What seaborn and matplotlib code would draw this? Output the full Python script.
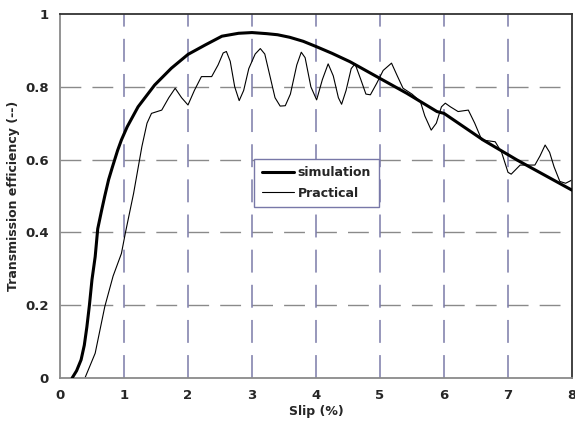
import matplotlib as mpl
mpl.use('Agg')
import matplotlib.pyplot as plt
import seaborn as sns
import pandas as pd

# simulation curve
sim_slip = [0.19, 0.26, 0.33, 0.38, 0.42, 0.46, 0.50, 0.55, 0.59, 0.65, 0.70, 0.76, 0.82,
            0.90, 0.96, 1.05, 1.22, 1.48, 1.74, 2.0, 2.27, 2.53, 2.79, 3.0, 3.23, 3.40,
            3.59, 3.80, 4.01, 4.25, 4.53, 5.0, 5.42, 5.89, 6.0, 6.61, 7.14, 8.0]
sim_eff = [0.0, 0.02, 0.05, 0.09, 0.14, 0.20, 0.27, 0.333, 0.41, 0.46, 0.50, 0.545, 0.58,
           0.625, 0.654, 0.69, 0.745, 0.805, 0.851, 0.889, 0.915, 0.939, 0.947, 0.949, 0.946, 0.943,
           0.936, 0.925, 0.91, 0.892, 0.869, 0.823, 0.782, 0.732, 0.727, 0.654, 0.599, 0.516]

# measured curve
prac_slip = [0.39, 0.55, 0.70, 0.83, 0.96, 1.02, 1.15, 1.28, 1.36, 1.43, 1.59, 1.70, 1.80,
             1.90, 2.0, 2.10, 2.21, 2.37, 2.47, 2.55, 2.60, 2.66, 2.73, 2.80, 2.87, 2.95,
             3.05, 3.13, 3.20, 3.28, 3.36, 3.44, 3.52, 3.60, 3.70, 3.77, 3.83, 3.92, 4.01,
             4.10, 4.19, 4.27, 4.35, 4.40, 4.47, 4.55, 4.61, 4.70, 4.78, 4.85, 4.95, 5.05,
             5.18, 5.27, 5.36, 5.50, 5.63, 5.70, 5.80, 5.88, 5.96, 6.02, 6.10, 6.22, 6.38,
             6.48, 6.59, 6.80, 6.90, 7.0, 7.05, 7.19, 7.42, 7.50, 7.58, 7.65, 7.72, 7.81,
             7.90, 8.0]
prac_eff = [0.0, 0.068, 0.196, 0.28, 0.342, 0.397, 0.507, 0.636, 0.70, 0.727, 0.736, 0.77, 0.796,
            0.77, 0.75, 0.79, 0.828, 0.828, 0.86, 0.893, 0.897, 0.87, 0.80, 0.762, 0.79, 0.85,
            0.89, 0.905, 0.89, 0.83, 0.77, 0.747, 0.748, 0.78, 0.86, 0.895, 0.88, 0.80, 0.764,
            0.82, 0.863, 0.83, 0.77, 0.752, 0.79, 0.85, 0.863, 0.82, 0.78, 0.778, 0.81, 0.845,
            0.865, 0.83, 0.796, 0.78, 0.760, 0.72, 0.681, 0.70, 0.745, 0.755, 0.745, 0.732, 0.736,
            0.70, 0.654, 0.649, 0.62, 0.565, 0.56, 0.585, 0.585, 0.61, 0.64, 0.62, 0.58, 0.54,
            0.535, 0.544]

x_ticks = [0, 1, 2, 3, 4, 5, 6, 7, 8]
y_ticks = [0, 0.2, 0.4, 0.6, 0.8, 1.0]
y_labels = ['0', '0.2', '0.4', '0.6', '0.8', '1']

sns.set_style('white')
plt.rcParams['font.family'] = ['DejaVu Sans']

sim = pd.DataFrame({'slip': sim_slip, 'eff': sim_eff})
prac = pd.DataFrame({'slip': prac_slip, 'eff': prac_eff})

fig = plt.figure(figsize=(5.75, 4.32), dpi=100)
ax = fig.add_axes([0.1043, 0.125, 0.8905, 0.8426])

# grid: grey dashed horizontals, blue-ish dashed verticals
for yv in y_ticks[1:-1]:
    ax.axhline(yv, color='#8a8a8a', lw=1.0, dashes=(15, 8), zorder=1)
for xv in x_ticks[1:-1]:
    ax.axvline(xv, color='#7a7aa8', lw=1.1, dashes=(15, 8), zorder=1)

sns.lineplot(data=sim, x='slip', y='eff', ax=ax, color='black', lw=2.2,
             label='simulation', sort=False, zorder=3)
sns.lineplot(data=prac, x='slip', y='eff', ax=ax, color='black', lw=0.8,
             label='Practical', sort=False, zorder=2)

ax.set_xlim(0, 8)
ax.set_ylim(0, 1)
ax.set_xticks(x_ticks)
ax.set_yticks(y_ticks)
ax.set_yticklabels(y_labels)
ax.tick_params(axis='both', which='major', length=4, width=1, color='#888888',
               direction='inout', labelsize=9.5, pad=6)
for lab in ax.get_xticklabels() + ax.get_yticklabels():
    lab.set_fontweight('bold')

ax.spines['left'].set_color('#8a8a8a')
ax.spines['bottom'].set_color('#8a8a8a')
ax.spines['top'].set_color('#333333')
ax.spines['right'].set_color('#333333')
for s in ax.spines.values():
    s.set_linewidth(1.3)

ax.set_xlabel('Slip (%)', fontsize=9, fontweight='bold', labelpad=2)
ax.set_ylabel('Transmission efficiency (--)', fontsize=9, fontweight='bold', labelpad=4)

leg = ax.legend(loc='upper left', bbox_to_anchor=(0.379, 0.602), borderaxespad=0,
                fancybox=False, framealpha=1, edgecolor='#7878a8', handlelength=2.6,
                handletextpad=0.3, labelspacing=0.6, borderpad=0.6,
                prop={'size': 9, 'weight': 'bold'})
leg.get_frame().set_linewidth(1.0)

fig.savefig('out.png', dpi=100)
